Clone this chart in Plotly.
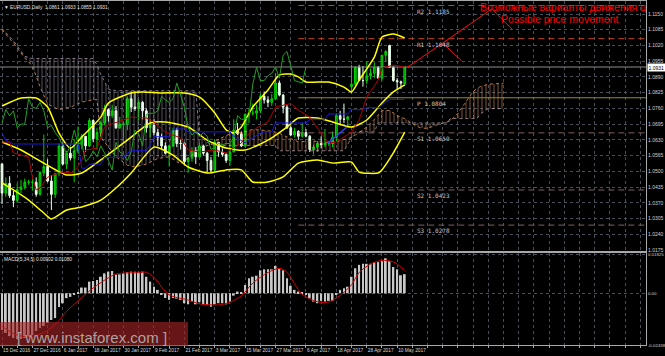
import plotly.graph_objects as go

# ---------------- data ----------------
DATE_LABELS = ["15 Dec 2016", "27 Dec 2016", "6 Jan 2017", "18 Jan 2017", "30 Jan 2017",
               "9 Feb 2017", "21 Feb 2017", "3 Mar 2017", "15 Mar 2017", "27 Mar 2017",
               "6 Apr 2017", "18 Apr 2017", "28 Apr 2017", "10 May 2017"]

opens = [1.0530,1.0410,1.0450,1.0400,1.0380,1.0425,1.0435,1.0455,1.0455,1.0455,
         1.0405,1.0495,1.0520,1.0460,1.0405,1.0490,1.0605,1.0530,1.0575,1.0555,
         1.0585,1.0610,1.0645,1.0605,1.0710,1.0635,1.0660,1.0700,1.0755,1.0730,
         1.0750,1.0680,1.0695,1.0695,1.0800,1.0765,1.0760,1.0785,1.0750,1.0680,
         1.0690,1.0660,1.0640,1.0605,1.0575,1.0605,1.0670,1.0615,1.0615,1.0540,
         1.0555,1.0585,1.0560,1.0605,1.0575,1.0545,1.0505,1.0620,1.0580,1.0570,
         1.0545,1.0580,1.0670,1.0655,1.0605,1.0735,1.0740,1.0740,1.0750,1.0810,
         1.0795,1.0785,1.0800,1.0865,1.0815,1.0765,1.0680,1.0650,1.0665,1.0645,
         1.0660,1.0645,1.0590,1.0600,1.0615,1.0610,1.0615,1.0615,1.0640,1.0730,
         1.0715,1.0715,1.0850,1.0860,1.0930,1.0875,1.0875,1.0895,1.0905,1.0930,
         1.0885,1.0980,1.1020,1.0930,1.0875,1.0870,1.0861]
highs = [1.0535,1.0475,1.0480,1.0420,1.0450,1.0465,1.0470,1.0465,1.0470,1.0475,
         1.0500,1.0652,1.0550,1.0485,1.0490,1.0615,1.0620,1.0585,1.0600,1.0630,
         1.0685,1.0655,1.0645,1.0720,1.0715,1.0680,1.0710,1.0775,1.0760,1.0775,
         1.0770,1.0725,1.0705,1.0810,1.0830,1.0830,1.0795,1.0790,1.0760,1.0715,
         1.0715,1.0675,1.0655,1.0620,1.0610,1.0680,1.0680,1.0630,1.0620,1.0560,
         1.0600,1.0600,1.0620,1.0610,1.0580,1.0560,1.0630,1.0620,1.0595,1.0575,
         1.0615,1.0715,1.0700,1.0665,1.0740,1.0760,1.0780,1.0775,1.0820,1.0830,
         1.0810,1.0820,1.0905,1.0875,1.0820,1.0775,1.0690,1.0680,1.0670,1.0700,
         1.0675,1.0650,1.0610,1.0625,1.0645,1.0675,1.0625,1.0665,1.0740,1.0750,
         1.0780,1.0730,1.0940,1.0935,1.0940,1.0935,1.0955,1.0925,1.0950,1.0935,
         1.0980,1.1000,1.1023,1.0935,1.0885,1.0875,1.0933]
lows = [1.0365,1.0395,1.0390,1.0352,1.0370,1.0410,1.0425,1.0445,1.0420,1.0395,
        1.0400,1.0480,1.0455,1.0340,1.0390,1.0480,1.0525,1.0510,1.0545,1.0455,
        1.0575,1.0590,1.0580,1.0600,1.0620,1.0590,1.0640,1.0690,1.0705,1.0720,
        1.0675,1.0675,1.0620,1.0670,1.0745,1.0750,1.0710,1.0715,1.0660,1.0640,
        1.0650,1.0605,1.0595,1.0570,1.0520,1.0600,1.0600,1.0590,1.0525,1.0495,
        1.0540,1.0530,1.0560,1.0565,1.0495,1.0495,1.0500,1.0560,1.0560,1.0535,
        1.0525,1.0580,1.0650,1.0600,1.0600,1.0700,1.0730,1.0715,1.0740,1.0780,
        1.0765,1.0770,1.0795,1.0810,1.0740,1.0675,1.0645,1.0640,1.0630,1.0640,
        1.0640,1.0580,1.0570,1.0580,1.0595,1.0600,1.0605,1.0600,1.0625,1.0690,
        1.0700,1.0680,1.0820,1.0855,1.0880,1.0850,1.0860,1.0880,1.0885,1.0885,
        1.0875,1.0955,1.0930,1.0870,1.0840,1.0840,1.0855]
closes = [1.0410,1.0450,1.0400,1.0380,1.0425,1.0435,1.0455,1.0455,1.0455,1.0405,
          1.0495,1.0520,1.0460,1.0405,1.0490,1.0605,1.0530,1.0575,1.0555,1.0585,
          1.0610,1.0645,1.0605,1.0710,1.0635,1.0660,1.0700,1.0755,1.0730,1.0750,
          1.0680,1.0695,1.0695,1.0800,1.0765,1.0760,1.0785,1.0750,1.0680,1.0690,
          1.0660,1.0640,1.0605,1.0575,1.0605,1.0670,1.0615,1.0615,1.0540,1.0555,
          1.0585,1.0560,1.0605,1.0575,1.0545,1.0505,1.0620,1.0580,1.0570,1.0545,
          1.0580,1.0670,1.0655,1.0605,1.0735,1.0740,1.0740,1.0750,1.0810,1.0795,
          1.0785,1.0800,1.0865,1.0815,1.0765,1.0680,1.0650,1.0665,1.0645,1.0660,
          1.0645,1.0590,1.0600,1.0615,1.0610,1.0615,1.0615,1.0640,1.0730,1.0715,
          1.0715,1.0725,1.0860,1.0930,1.0875,1.0875,1.0895,1.0905,1.0930,1.0885,
          1.0980,1.0995,1.0930,1.0875,1.0870,1.0865,1.0931]

# Bollinger bands (yellow)
bb_upper_bars = [0,5,9,12,15,18,21,26,28,34,37,42,48,52,56,59,61,63,66,70,73,76,78,80,86,90,92,94,98,100,103,106]
bb_upper = [1.0770,1.0803,1.0803,1.0766,1.0658,1.0596,1.0642,1.0724,1.0782,1.0824,1.0828,1.0824,1.0824,1.0807,
            1.0741,1.0671,1.0658,1.0683,1.0766,1.0836,1.0898,1.0902,1.0890,1.0869,1.0869,1.0848,1.0828,1.0877,
            1.0972,1.1055,1.1067,1.1051]
bb_mid_bars = [0,5,11,17,21,26,33,39,43,49,54,59,64,70,75,78,83,87,92,96,100,103,106]
bb_mid = [1.0621,1.0588,1.0534,1.0485,1.0493,1.0547,1.0629,1.0700,1.0704,1.0683,1.0629,1.0596,1.0588,1.0629,
          1.0683,1.0720,1.0720,1.0704,1.0683,1.0712,1.0782,1.0828,1.0857]
bb_lower_bars = [0,3,7,11,13,17,21,26,30,34,40,45,49,54,59,63,66,70,74,78,83,87,92,94,99,100,103,106]
bb_lower = [1.0452,1.0423,1.0381,1.0328,1.0303,1.0340,1.0353,1.0381,1.0431,1.0493,1.0600,1.0567,1.0518,1.0493,
            1.0506,1.0506,1.0456,1.0456,1.0477,1.0534,1.0547,1.0534,1.0538,1.0497,1.0493,1.0506,1.0576,1.0662]

# Ichimoku
tenkan_bars = [0,2,3,7,8,9,10,12,15,19,21,22,25,27,28,32,34,38,40,43,47,49,52,56,59,63,64,67,70,72,76,78,81,84,86,88,92,94,96,99,100,103,106]
tenkan = [1.0621,1.0621,1.0576,1.0559,1.0476,1.0423,1.0431,1.0476,1.0493,1.0497,
          1.0547,1.0588,1.0596,1.0683,1.0691,1.0712,1.0724,1.0720,1.0704,1.0662,
          1.0638,1.0588,1.0580,1.0588,1.0576,1.0617,1.0642,1.0679,1.0704,1.0766,
          1.0780,1.0753,1.0724,1.0658,1.0617,1.0621,1.0662,1.0712,1.0807,1.0877,
          1.0927,1.0939,1.0931]
kijun_bars = [0,1,3,20,21,22,23,26,27,32,33,34,38,39,40,44,45,48,49,60,61,63,64,65,66,68,69,71,72,80,81,85,86,91,92,95,96,99,100,101,102,106]
kijun = [1.0658,1.0628,1.0613,1.0613,1.0513,1.0513,1.0530,1.0530,1.0558,1.0558,
         1.0575,1.0585,1.0585,1.0610,1.0643,1.0643,1.0675,1.0675,1.0663,1.0663,
         1.0645,1.0628,1.0618,1.0628,1.0638,1.0658,1.0663,1.0663,1.0700,1.0700,
         1.0715,1.0715,1.0737,1.0737,1.0755,1.0755,1.0763,1.0763,1.0775,1.0785,
         1.0797,1.0797]
CHIKOU_SHIFT = 26
span_bars = [0,3,6,8,10,12,15,18,21,24,25,26,27,28,30,33,35,38,41,44,47,49,51,52,54,55,56,60,63,66,
             70,72,73,76,78,82,85,88,90,91,92,93,94,96,98,99,100,102,104,106,108,110,112,114,116,117,118,
             120,122,124,125,126,128,130,132]
span_a = [1.1085,1.1030,1.0968,1.0935,1.0850,1.0778,1.0755,1.0765,1.0786,1.0796,
          1.0796,1.0640,1.0620,1.0600,1.0560,1.0525,1.0518,1.0530,1.0553,1.0560,
          1.0530,1.0555,1.0577,1.0595,1.0608,1.0612,1.0625,1.0655,1.0660,1.0673,
          1.0668,1.0662,1.0657,1.0635,1.0622,1.0625,1.0620,1.0622,1.0630,1.0635,
          1.0640,1.0650,1.0660,1.0683,1.0715,1.0733,1.0750,1.0752,1.0730,1.0718,
          1.0697,1.0680,1.0677,1.0690,1.0700,1.0704,1.0708,1.0740,1.0785,1.0830,
          1.0842,1.0851,1.0860,1.0862,1.0864]
span_b = [1.1090,1.1040,1.0975,1.0966,1.0966,1.0966,1.0966,1.0966,1.0966,1.0966,
          1.0940,1.0900,1.0870,1.0840,1.0833,1.0833,1.0833,1.0833,1.0833,1.0833,
          1.0833,1.0833,1.0833,1.0645,1.0620,1.0612,1.0607,1.0607,1.0607,1.0607,
          1.0607,1.0607,1.0585,1.0585,1.0585,1.0585,1.0585,1.0585,1.0585,1.0610,
          1.0643,1.0663,1.0663,1.0663,1.0663,1.0700,1.0700,1.0700,1.0700,1.0700,
          1.0700,1.0700,1.0700,1.0700,1.0700,1.0700,1.0718,1.0718,1.0718,1.0718,
          1.0718,1.0738,1.0759,1.0759,1.0759]
CLOUD_TWIST_BAR = 55

# MACD(5,34,5)
macd_hist = [-0.0173,-0.0187,-0.0202,-0.0211,-0.0216,-0.0216,-0.0211,-0.0206,-0.0197,-0.0178,
             -0.0164,-0.0154,-0.0140,-0.0126,-0.0117,-0.0065,-0.0047,-0.0023,-0.0017,-0.0008,
             0.0005,0.0027,0.0027,0.0055,0.0058,0.0063,0.0078,0.0094,0.0102,0.0105,
             0.0089,0.0089,0.0094,0.0099,0.0102,0.0102,0.0099,0.0102,0.0078,0.0055,
             0.0031,0.0016,-0.0006,-0.0022,-0.0031,-0.0022,-0.0025,-0.0031,-0.0047,-0.0052,
             -0.0039,-0.0052,-0.0042,-0.0052,-0.0055,-0.0063,-0.0052,-0.0047,-0.0047,-0.0052,
             -0.0039,-0.0011,0.0008,0.0003,0.0039,0.0071,0.0078,0.0083,0.0108,0.0113,
             0.0113,0.0113,0.0129,0.0116,0.0108,0.0071,0.0035,0.0016,0.0008,0.0002,
             -0.0008,-0.0024,-0.0039,-0.0047,-0.0036,-0.0039,-0.0036,-0.0036,-0.0008,0.0016,
             0.0024,0.0031,0.0078,0.0118,0.0134,0.0139,0.0139,0.0139,0.0147,0.0147,
             0.0151,0.0165,0.0151,0.0124,0.0113,0.0085,0.00902]
signal_bars = [0,3,6,8,11,13,15,17,21,24,28,30,33,36,38,40,42,44,49,52,57,60,63,66,70,73,75,77,79,83,86,89,92,94,97,100,103,106]
signal = [-0.0155,-0.0190,-0.0205,-0.0203,-0.0185,-0.0163,-0.0128,-0.0085,-0.0020,0.0025,
          0.0073,0.0091,0.0096,0.0097,0.0099,0.0075,0.0030,-0.0008,-0.0032,-0.0050,
          -0.0055,-0.0042,-0.0012,0.0048,0.0098,0.0118,0.0100,0.0045,-0.0005,-0.0040,
          -0.0041,-0.0010,0.0040,0.0098,0.0138,0.0155,0.0148,0.0108]

# Pivot levels
pivot_names = ["R2", "R1", "P", "S1", "S2", "S3"]
pivot_values = [1.1185, 1.1048, 1.0804, 1.0659, 1.0423, 1.0278]
PIVOT_START_BAR = 78

# Hand-drawn forecast lines (bar, price)
path1_bars = [106.8, 116.0, 121.0]
path1_prices = [1.0931, 1.1030, 1.0956]
path2_bars = [116.0, 128.9, 134.2]
path2_prices = [1.1030, 1.1171, 1.1088]
trend_bars = [85.8, 90.8]
trend_prices = [1.0617, 1.0683]

PRICE_TICKS = [1.0175, 1.0240, 1.0305, 1.0370, 1.0435, 1.0500, 1.0565, 1.0630, 1.0695,
               1.0760, 1.0825, 1.0890, 1.0955, 1.1020, 1.1085, 1.1150]
MACD_TICKS = [0.01825, 0.0, -0.02438]
MACD_TICKTEXT = ["0.01825", "0.00", "-0.02438"]

HEADER = "\u25bc EURUSD,Daily  1.0861 1.0933 1.0855 1.0931"
MACD_LABEL = "MACD(5,34,5) 0.00902 0.01080"
TEXT_RU = "Возможные варианты движения цен"
TEXT_EN = "Possible price movement"
WATERMARK = "[ www.instaforex.com ]"

# ---------------- layout constants ----------------
X_MIN, X_MAX = -0.53, 169.5
MAIN_RANGE = [1.01709, 1.12037]
MACD_RANGE = [-0.0244, 0.0190]
GRID_TICKS = list(range(0, 170, 4))
PIVOT_LABEL_BAR = 108.7
RU_TEXT_POS = (125.8, 1.1175)
EN_TEXT_POS = (146.8, 1.1125)

bars = list(range(len(closes)))
FONT = "Liberation Sans"

fig = go.Figure()

# Ichimoku cloud (hatched)
split = span_bars.index(CLOUD_TWIST_BAR)
segments = [(slice(0, split + 1), "rgba(216,191,216,0.40)"),
            (slice(split, None), "rgba(230,150,90,0.55)")]
for sl, col in segments:
    fig.add_trace(go.Scatter(x=span_bars[sl], y=span_b[sl], mode="lines",
                             line=dict(color="rgba(216,191,216,0.6)", width=1, dash="dot"),
                             xaxis="x", yaxis="y", hoverinfo="skip"))
    fig.add_trace(go.Scatter(x=span_bars[sl], y=span_a[sl], mode="lines",
                             line=dict(color="rgba(230,150,90,0.8)", width=1, dash="dot"),
                             fill="tonexty", fillcolor=col,
                             fillpattern=dict(shape="|", size=4, solidity=0.25, fgcolor=col,
                                              bgcolor="rgba(0,0,0,0)", fillmode="replace"),
                             xaxis="x", yaxis="y", hoverinfo="skip"))

# Pivot lines
pivot_styles = {"R2": ("#c24a1c", "6px,4px"), "R1": ("#c24a1c", "6px,4px"),
                "P": ("#9c8a2c", "solid"),
                "S1": ("#7d615d", "6px,4px"), "S2": ("#7d615d", "6px,4px"), "S3": ("#7d615d", "6px,4px")}
for name, val in zip(pivot_names, pivot_values):
    c, d = pivot_styles[name]
    fig.add_trace(go.Scatter(x=[PIVOT_START_BAR, X_MAX], y=[val, val], mode="lines",
                             line=dict(color=c, width=1, dash=d), xaxis="x", yaxis="y", hoverinfo="skip"))

# Current price line
fig.add_trace(go.Scatter(x=[X_MIN, X_MAX], y=[closes[-1], closes[-1]], mode="lines",
                         line=dict(color="#8c8c8c", width=1), xaxis="x", yaxis="y", hoverinfo="skip"))

# Bollinger bands
for bx, by in [(bb_upper_bars, bb_upper), (bb_mid_bars, bb_mid), (bb_lower_bars, bb_lower)]:
    fig.add_trace(go.Scatter(x=bx, y=by, mode="lines", line=dict(color="#ffff00", width=1.5, shape="spline", smoothing=0.6),
                             xaxis="x", yaxis="y", hoverinfo="skip"))

# Ichimoku lines
fig.add_trace(go.Scatter(x=bars[:len(bars) - CHIKOU_SHIFT], y=closes[CHIKOU_SHIFT:], mode="lines",
                         line=dict(color="#22a022", width=1), xaxis="x", yaxis="y", hoverinfo="skip"))
fig.add_trace(go.Scatter(x=kijun_bars, y=kijun, mode="lines", line=dict(color="#1a1adc", width=1),
                         xaxis="x", yaxis="y", hoverinfo="skip"))
fig.add_trace(go.Scatter(x=tenkan_bars, y=tenkan, mode="lines", line=dict(color="#b00000", width=1),
                         xaxis="x", yaxis="y", hoverinfo="skip"))
fig.add_trace(go.Scatter(x=trend_bars, y=trend_prices, mode="lines", line=dict(color="#2846ff", width=1.5),
                         xaxis="x", yaxis="y", hoverinfo="skip"))

# Candles
fig.add_trace(go.Candlestick(x=bars, open=opens, high=highs, low=lows, close=closes,
                             increasing=dict(line=dict(color="#00d400", width=1), fillcolor="#009a00"),
                             decreasing=dict(line=dict(color="#e6ffe6", width=1), fillcolor="#ffffff"),
                             whiskerwidth=0, xaxis="x", yaxis="y", hoverinfo="skip"))

# Forecast lines
for px_, py_ in [(path1_bars, path1_prices), (path2_bars, path2_prices)]:
    fig.add_trace(go.Scatter(x=px_, y=py_, mode="lines", line=dict(color="#ff1010", width=1),
                             xaxis="x", yaxis="y", hoverinfo="skip", cliponaxis=True))

# Red texts (clipped at plot edge)
fig.add_trace(go.Scatter(x=[RU_TEXT_POS[0]], y=[RU_TEXT_POS[1]], mode="text", text=[TEXT_RU],
                         textposition="middle right", cliponaxis=True,
                         textfont=dict(color="#ff0000", size=10.5, family=FONT),
                         xaxis="x", yaxis="y", hoverinfo="skip"))
fig.add_trace(go.Scatter(x=[EN_TEXT_POS[0]], y=[EN_TEXT_POS[1]], mode="text", text=[TEXT_EN],
                         textposition="middle center", cliponaxis=True,
                         textfont=dict(color="#ff0000", size=10.5, family=FONT),
                         xaxis="x", yaxis="y", hoverinfo="skip"))

# MACD
fig.add_trace(go.Bar(x=bars, y=macd_hist, width=0.5, marker=dict(color="#c8c8c8", line=dict(width=0)),
                     xaxis="x2", yaxis="y2", hoverinfo="skip"))
fig.add_trace(go.Scatter(x=signal_bars, y=signal, mode="lines",
                         line=dict(color="#d00000", width=1, shape="spline", smoothing=0.8),
                         xaxis="x2", yaxis="y2", hoverinfo="skip"))

# ---------------- layout ----------------
grid = dict(showgrid=True, gridcolor="#46505a", griddash="dot", gridwidth=1)
axis_line = dict(showline=True, linecolor="#a8a8a8", linewidth=1, mirror=True, zeroline=False)
date_text = []
for t in GRID_TICKS:
    k = t // 8
    date_text.append(DATE_LABELS[k] if t % 8 == 0 and k < len(DATE_LABELS) else "")

main_bottom = (345 - 251) / 344
macd_top = (345 - 253) / 344

fig.update_layout(
    width=665, height=356, margin=dict(l=0, r=19, t=1, b=11),
    paper_bgcolor="#000000", plot_bgcolor="#000000", showlegend=False,
    hovermode=False, boxgap=0.35,
    font=dict(family=FONT, color="#d0d0d0"),
    xaxis=dict(domain=[0, 1], anchor="y", range=[X_MIN, X_MAX], tickvals=GRID_TICKS,
               showticklabels=False, ticks="", rangeslider=dict(visible=False), **grid, **axis_line),
    xaxis2=dict(domain=[0, 1], anchor="y2", range=[X_MIN, X_MAX], matches="x", tickvals=GRID_TICKS,
                ticktext=date_text, ticklabelposition="outside right", ticks="outside", ticklen=2,
                tickangle=0, tickcolor="#a8a8a8", tickfont=dict(size=4.8, color="#d8d8d8", family=FONT),
                rangeslider=dict(visible=False), **grid, **axis_line),
    yaxis=dict(domain=[main_bottom, 1], anchor="x", side="right", range=MAIN_RANGE,
               tickvals=PRICE_TICKS, ticktext=[f"{v:.4f}" for v in PRICE_TICKS],
               ticks="", ticklabelstandoff=0,
               tickfont=dict(size=5.0, color="#d0d0d0", family=FONT), automargin=False, **grid, **axis_line),
    yaxis2=dict(domain=[0, macd_top], anchor="x2", side="right", range=MACD_RANGE,
                tickvals=MACD_TICKS, ticktext=MACD_TICKTEXT, ticks="", ticklabelstandoff=0,
                tickfont=dict(size=4.4, color="#d0d0d0", family=FONT), automargin=False, **grid, **axis_line),
)

annotations = [
    dict(xref="paper", yref="paper", x=0, y=1, xanchor="left", yanchor="top", xshift=2, yshift=-2,
         text=HEADER, showarrow=False, font=dict(size=4.8, color="#e0e0e0", family=FONT)),
    dict(xref="paper", yref="paper", x=0, y=macd_top, xanchor="left", yanchor="top", xshift=2, yshift=-2,
         text=MACD_LABEL, showarrow=False, font=dict(size=4.8, color="#e0e0e0", family=FONT)),
    dict(xref="paper", yref="y", x=1, y=closes[-1], xanchor="left", yanchor="middle", xshift=1,
         text=f"{closes[-1]:.4f}", showarrow=False, bgcolor="#ffffff", borderpad=0.5,
         font=dict(size=5.0, color="#000000", family=FONT)),
    dict(xref="paper", yref="paper", x=92 / 646, y=(345 - 337) / 344, xanchor="center", yanchor="middle",
         text=WATERMARK, showarrow=False, font=dict(size=15, color="rgba(190,190,190,0.85)", family=FONT)),
]
for name, val in zip(pivot_names, pivot_values):
    annotations.append(dict(xref="x", yref="y", x=PIVOT_LABEL_BAR, y=val, xanchor="left", yanchor="top",
                            text=f"{name} {val:.4f}", showarrow=False,
                            font=dict(size=6, color="#c8c8c8", family="DejaVu Sans Mono")))
fig.update_layout(annotations=annotations)

fig.add_shape(type="rect", xref="paper", yref="paper", x0=0, x1=188 / 646,
              y0=(345 - 346) / 344, y1=(345 - 322) / 344,
              fillcolor="rgba(165,35,35,0.62)", line=dict(width=0), layer="above")

fig.write_html("out.html", config={"displayModeBar": False})
